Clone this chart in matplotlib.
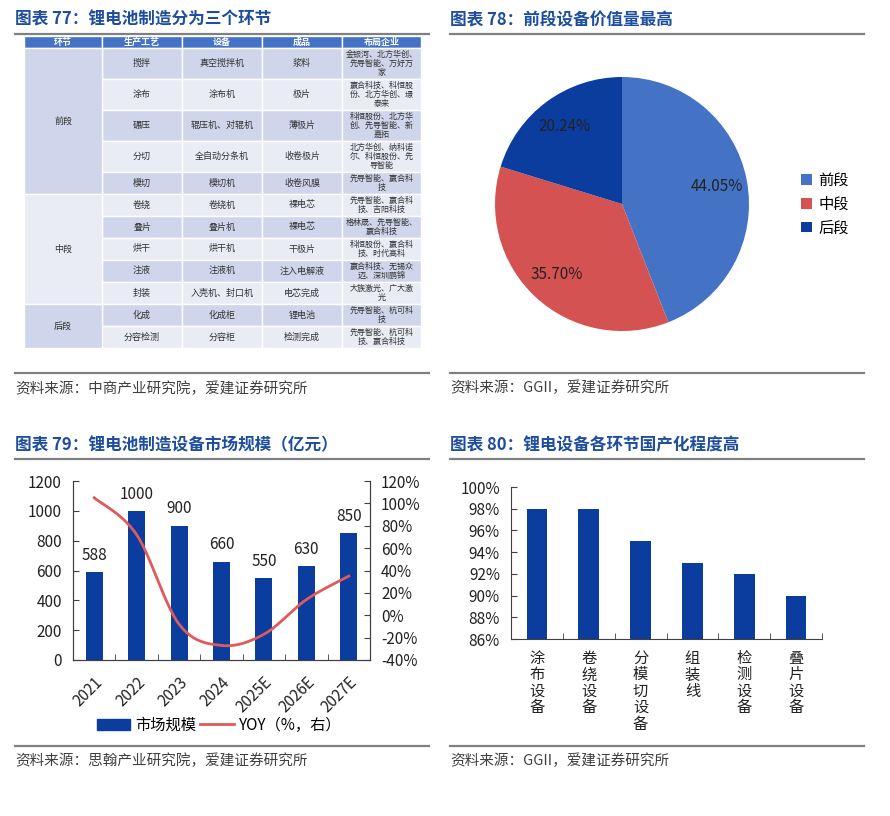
import numpy as np
import matplotlib.pyplot as plt
from matplotlib.lines import Line2D
from matplotlib.patches import Rectangle, Patch
from matplotlib.ticker import FuncFormatter
from matplotlib.transforms import ScaledTranslation

plt.rcParams['font.family'] = ['Noto Sans CJK SC', 'DejaVu Sans']

# ---- 数据 ----
# 图表77 表格
tbl_header = ['环节', '生产工艺', '设备', '成品', '布局企业']
tbl_stage = ['前段', '前段', '前段', '前段', '前段',
             '中段', '中段', '中段', '中段', '中段',
             '后段', '后段']
tbl_process = ['搅拌', '涂布', '碾压', '分切', '模切', '卷绕', '叠片', '烘干',
               '注液', '封装', '化成', '分容检测']
tbl_equip = ['真空搅拌机', '涂布机', '辊压机、对辊机', '全自动分条机', '模切机',
             '卷绕机', '叠片机', '烘干机', '注液机', '入壳机、封口机', '化成柜', '分容柜']
tbl_product = ['浆料', '极片', '薄极片', '收卷极片', '收卷风膜', '裸电芯', '裸电芯',
               '干极片', '注入电解液', '电芯完成', '锂电池', '检测完成']
tbl_company = ['金银河、北方华创、\n先导智能、万好万\n家',
               '赢合科技、科恒股\n份、北方华创、璟\n泰来',
               '科恒股份、北方华\n创、先导智能、新\n嘉拓',
               '北方华创、纳科诺\n尔、科恒股份、先\n导智能',
               '先导智能、赢合科\n技',
               '先导智能、赢合科\n技、吉阳科技',
               '格林晟、先导智能、\n赢合科技',
               '科恒股份、赢合科\n技、时代高科',
               '赢合科技、无锡众\n迈、深圳鹏锦',
               '大族激光、广大激\n光',
               '先导智能、杭可科\n技',
               '先导智能、杭可科\n技、赢合科技']

# 图表78 饼图
pie_labels = ['前段', '中段', '后段']
pie_shares = [44.05, 35.70, 20.24]

# 图表79 市场规模
years = ['2021', '2022', '2023', '2024', '2025E', '2026E', '2027E']
market = [588, 1000, 900, 660, 550, 630, 850]
yoy = [105, 72, -8, -27, -17, 14, 35]

# 图表80 国产化程度
equip_names = ['涂布设备', '卷绕设备', '分模切设备', '组装线', '检测设备', '叠片设备']
local_rate = [98, 98, 95, 93, 92, 90]

# ---- 样式 ----
TITLE_C = '#1F4E9E'
BAR_C = '#0B3D9F'
LINE_C = '#E05A5A'
GREY = '#808080'
TXT = '#222222'

W, H = 890, 816
fig = plt.figure(figsize=(W / 100, H / 100), dpi=100)


def fx(x):
    return x / W


def fy(y):
    return 1 - y / H


def px_axes(l, t, r, b):
    return fig.add_axes([l / W, 1 - b / H, (r - l) / W, (b - t) / H])


def frame(x0, x1, y_title, y_line, y_bot, y_src, title, src):
    fig.text(fx(x0), fy(y_title), title, fontsize=12, fontweight='bold',
             color=TITLE_C, ha='left', va='center')
    fig.add_artist(Line2D([fx(x0), fx(x1)], [fy(y_line)] * 2, color=GREY, lw=1.6))
    fig.add_artist(Line2D([fx(x0), fx(x1)], [fy(y_bot)] * 2, color=GREY, lw=1.6))
    fig.text(fx(x0), fy(y_src), src, fontsize=10.5, color='#404040',
             ha='left', va='center')


frame(15, 429, 20, 34, 373, 389, '图表 77：锂电池制造分为三个环节',
      '资料来源：中商产业研究院，爱建证券研究所')
frame(450, 864, 20, 34, 373, 388, '图表 78：前段设备价值量最高',
      '资料来源：GGII，爱建证券研究所')
frame(15, 429, 445, 459, 746, 761, '图表 79：锂电池制造设备市场规模（亿元）',
      '资料来源：思翰产业研究院，爱建证券研究所')
frame(450, 864, 445, 459, 746, 761, '图表 80：锂电设备各环节国产化程度高',
      '资料来源：GGII，爱建证券研究所')

# ---- 图表77 表格 ----
axt = px_axes(24, 36, 421, 348)
axt.set_xlim(24, 421)
axt.set_ylim(348, 36)
axt.axis('off')
col_x = [24, 102, 182, 262, 342, 421]
HDR, DARK, LIGHT = '#4472C4', '#CFD5EA', '#E9EBF5'
fs_t = 6.5
fs_c = 5.8

y = 36
for c in range(5):
    axt.add_patch(Rectangle((col_x[c], y), col_x[c + 1] - col_x[c], 12,
                            facecolor=HDR, edgecolor='white', lw=1))
    axt.text((col_x[c] + col_x[c + 1]) / 2, y + 6, tbl_header[c], color='white',
             fontsize=fs_t, fontweight='bold', ha='center', va='center')
y += 12
row_top = []
for i in range(len(tbl_process)):
    n = tbl_company[i].count('\n') + 1
    h = 9 * n + 4
    row_top.append((y, h))
    fc = DARK if i % 2 == 0 else LIGHT
    cells = [tbl_process[i], tbl_equip[i], tbl_product[i], tbl_company[i]]
    for c in range(1, 5):
        axt.add_patch(Rectangle((col_x[c], y), col_x[c + 1] - col_x[c], h,
                                facecolor=fc, edgecolor='white', lw=1))
        axt.text((col_x[c] + col_x[c + 1]) / 2, y + h / 2, cells[c - 1],
                 color='#333333', fontsize=fs_c if c == 4 else fs_t,
                 ha='center', va='center', linespacing=1.05)
    y += h

# 合并的“环节”单元格
for k, stage in enumerate(['前段', '中段', '后段']):
    idx = [i for i, s in enumerate(tbl_stage) if s == stage]
    top = row_top[idx[0]][0]
    bot = row_top[idx[-1]][0] + row_top[idx[-1]][1]
    fc = DARK if k != 1 else LIGHT
    axt.add_patch(Rectangle((col_x[0], top), col_x[1] - col_x[0], bot - top,
                            facecolor=fc, edgecolor='white', lw=1))
    axt.text((col_x[0] + col_x[1]) / 2, (top + bot) / 2, stage, color='#333333',
             fontsize=fs_t, ha='center', va='center')

# ---- 图表78 饼图 ----
axp = px_axes(495, 77, 749, 331)
pie_colors = ['#4472C4', '#D45352', BAR_C]
wedges, _, autotexts = axp.pie(pie_shares, colors=pie_colors, startangle=90,
                               counterclock=False, autopct='%.2f%%',
                               pctdistance=0.76, wedgeprops=dict(linewidth=0),
                               textprops=dict(fontsize=11, color=TXT))
axp.set_xlim(-1, 1)
axp.set_ylim(-1, 1)
axp.set_aspect('equal')
axp.legend(wedges, pie_labels, loc='center left', bbox_to_anchor=(fx(801), fy(204)),
           bbox_transform=fig.transFigure, frameon=False, fontsize=11,
           borderpad=0, borderaxespad=0,
           handlelength=0.7, handleheight=0.7, handletextpad=0.45, labelspacing=0.45)

# ---- 图表79 市场规模 ----
ax3 = px_axes(73, 481, 370, 660)
x = np.arange(len(years))
ax3.bar(x, market, width=0.4, color=BAR_C, label='市场规模')
for xi, v in zip(x, market):
    ax3.annotate(str(v), (xi, v), xytext=(0, 6), textcoords='offset points',
                 ha='center', va='bottom', fontsize=11, color=TXT)
ax3.set_xlim(-0.5, len(years) - 0.5)
ax3.set_ylim(0, 1200)
ax3.set_yticks(np.arange(0, 1201, 200))
ax3.set_xticks(x)
ax3.set_xticklabels(years, rotation=45, ha='right', va='top',
                    rotation_mode='anchor', fontsize=11, color=TXT)
shift = ScaledTranslation(-8 / 100, 0, fig.dpi_scale_trans)
for lab in ax3.get_xticklabels():
    lab.set_transform(lab.get_transform() + shift)
ax3.set_xticks(np.arange(-0.5, len(years)), minor=True)
ax3.tick_params(axis='x', which='major', length=0, pad=10)
ax3.tick_params(axis='x', which='minor', direction='in', length=4, color='#404040')
ax3.tick_params(axis='y', direction='in', length=4, pad=8, labelsize=11,
                labelcolor=TXT, color='#404040')


def catmull(xs, ys, n=24):
    pts = np.column_stack([xs, ys]).astype(float)
    ext = np.vstack([pts[0], pts, pts[-1]])
    t = np.linspace(0, 1, n, endpoint=False)[:, None]
    segs = []
    for i in range(len(pts) - 1):
        p0, p1, p2, p3 = ext[i], ext[i + 1], ext[i + 2], ext[i + 3]
        segs.append(0.5 * (2 * p1 + (p2 - p0) * t
                           + (2 * p0 - 5 * p1 + 4 * p2 - p3) * t ** 2
                           + (3 * p1 - p0 - 3 * p2 + p3) * t ** 3))
    segs.append(pts[-1:])
    return np.vstack(segs)


ax3r = ax3.twinx()
curve = catmull(x, yoy)
ax3r.plot(curve[:, 0], curve[:, 1], color=LINE_C, lw=2, label='YOY（%，右）')
ax3r.set_ylim(-40, 120)
ax3r.set_yticks(np.arange(-40, 121, 20))
ax3r.yaxis.set_major_formatter(FuncFormatter(lambda v, p: f'{v:.0f}%'))
ax3r.tick_params(axis='y', direction='in', length=4, pad=8, labelsize=11,
                 labelcolor=TXT, color='#404040')
for a in (ax3, ax3r):
    a.spines['top'].set_visible(False)
    for s in ('left', 'right', 'bottom'):
        a.spines[s].set_color('#404040')
ax3.legend(handles=[Patch(color=BAR_C, label='市场规模'),
                    Line2D([], [], color=LINE_C, lw=2, label='YOY（%，右）')],
           loc='center', bbox_to_anchor=(fx(219), fy(725)),
           bbox_transform=fig.transFigure, ncol=2, frameon=False, fontsize=11,
           handlelength=2.2, handletextpad=0.3, columnspacing=0.3)

# ---- 图表80 国产化程度 ----
ax4 = px_axes(511, 487, 822, 639)
x6 = np.arange(len(equip_names))
ax4.bar(x6, local_rate, width=0.4, color=BAR_C)
ax4.set_xlim(-0.5, len(equip_names) - 0.5)
ax4.set_ylim(86, 100)
ax4.set_yticks(np.arange(86, 101, 2))
ax4.yaxis.set_major_formatter(FuncFormatter(lambda v, p: f'{v:.0f}%'))
ax4.set_xticks(x6)
ax4.set_xticklabels(['\n'.join(n) for n in equip_names], fontsize=11,
                    color=TXT, va='top', linespacing=0.95)
ax4.set_xticks(np.arange(-0.5, len(equip_names)), minor=True)
ax4.tick_params(axis='x', which='major', length=0, pad=8)
ax4.tick_params(axis='x', which='minor', direction='in', length=4, color='#404040')
ax4.tick_params(axis='y', direction='in', length=4, pad=8, labelsize=11,
                labelcolor=TXT, color='#404040')
for s in ('top', 'right'):
    ax4.spines[s].set_visible(False)
for s in ('left', 'bottom'):
    ax4.spines[s].set_color('#404040')

fig.savefig('out.png', dpi=100)
